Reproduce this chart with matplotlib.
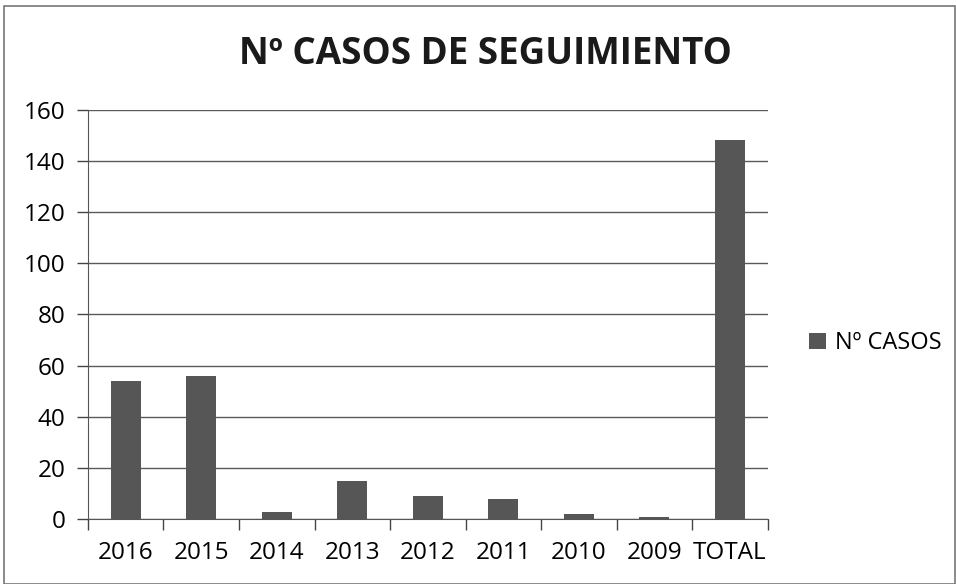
import matplotlib.pyplot as plt
from matplotlib.patches import Rectangle

plt.rcParams['font.family'] = ['Open Sans', 'DejaVu Sans']

categories = ['2016', '2015', '2014', '2013', '2012', '2011', '2010', '2009', 'TOTAL']
casos = [54, 56, 3, 15, 9, 8, 2, 1, 148]
yticks = [0, 20, 40, 60, 80, 100, 120, 140, 160]

fig = plt.figure(figsize=(9.56, 5.84), dpi=100)
ax = fig.add_axes([0.092, 0.111, 0.711, 0.701])

x = range(len(categories))
ax.bar(x, casos, width=0.4, color='#565656', label='Nº CASOS', zorder=3)

ax.set_xlim(-0.5, len(categories) - 0.5)
ax.set_ylim(0, 160)
ax.set_yticks(yticks)
ax.set_yticklabels([str(v) for v in yticks], fontsize=17.5)
ax.yaxis.grid(True, color='#5a5a5a', linewidth=1.0, zorder=0)

# category labels between boundary ticks, like the spreadsheet chart
ax.set_xticks([i + 0.5 for i in range(-1, len(categories))])
ax.set_xticklabels([])
ax.set_xticks(list(x), minor=True)
ax.set_xticklabels(categories, minor=True, fontsize=17.5)
ax.tick_params(axis='x', which='major', length=8, width=1, color='#444444')
ax.tick_params(axis='x', which='minor', length=0, pad=16)
ax.tick_params(axis='y', length=8, width=1, color='#444444', pad=8)

for side in ['top', 'right']:
    ax.spines[side].set_visible(False)
ax.spines['left'].set_color('#555555')
ax.spines['bottom'].set_color('#555555')

fig.text(0.508, 0.907, 'Nº CASOS DE SEGUIMIENTO', ha='center', va='center',
         fontsize=26.5, fontweight='bold', color='#1a1a1a')

ax.legend(loc='center left', bbox_to_anchor=(1.03, 0.43), frameon=False,
          fontsize=17, handlelength=0.7, handleheight=0.7, handletextpad=0.4)

# chart area border
fig.patches.append(Rectangle((0.004, 0.0), 0.995, 0.99, transform=fig.transFigure,
                             fill=False, edgecolor='#777777', linewidth=1.2))

fig.savefig('out.png', dpi=100)
